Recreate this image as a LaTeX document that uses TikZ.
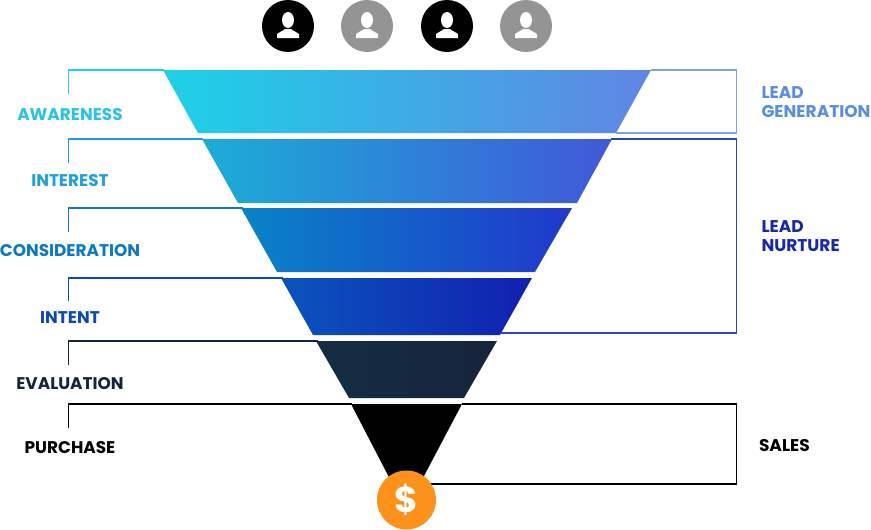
\documentclass[tikz,border=0pt]{standalone}
\usepackage{fontspec}
\setmainfont{Poppins}
\definecolor{awareC}{HTML}{27C4E6}
\definecolor{interC}{HTML}{1FA0DA}
\definecolor{considC}{HTML}{0C78C8}
\definecolor{intentC}{HTML}{0C48B8}
\definecolor{evalC}{HTML}{16243C}
\definecolor{genC}{HTML}{5B8CE4}
\definecolor{nurtC}{HTML}{1428B0}
\definecolor{coinC}{HTML}{FC9219}
\definecolor{bandOneL}{HTML}{1CD2E6}
\definecolor{bandOneR}{HTML}{6085E3}
\definecolor{bandTwoL}{HTML}{1AAED6}
\definecolor{bandTwoR}{HTML}{4058D8}
\definecolor{bandThreeL}{HTML}{0884C6}
\definecolor{bandThreeR}{HTML}{2038CC}
\definecolor{bandFourL}{HTML}{0A54BC}
\definecolor{bandFourR}{HTML}{1220B0}
\tikzset{
  stagelabel/.style={font=\bfseries\fontsize{16.9}{18}\selectfont,anchor=center},
  grouplabel/.style={font=\bfseries\fontsize{17}{19}\selectfont,anchor=west,align=left},
  person/.style={circle,minimum size=52pt,inner sep=0pt},
  bracket/.style={line width=1.5pt,line join=miter},
  band/.style={shading angle=6}
}
\begin{document}
\begin{tikzpicture}[x=1pt,y=-1pt]
    \useasboundingbox (0,0) rectangle (871,530);

    % Funnel
    \shade[band,left color=bandOneL,right color=bandOneR] (163,70)--(651,70)--(616,133)--(198,133)--cycle;
    \shade[band,left color=bandTwoL,right color=bandTwoR] (202,139)--(612,139)--(577,203)--(238,203)--cycle;
    \shade[band,left color=bandThreeL,right color=bandThreeR] (241,208)--(572,208)--(535,272)--(277,272)--cycle;
    \shade[band,left color=bandFourL,right color=bandFourR] (281,278)--(532,278)--(500,335)--(313,335)--cycle;
    \shade[band,left color=evalC!90!teal,right color=evalC] (316,341)--(497,341)--(464,398)--(349,398)--cycle;
    \fill[black] (351,404)--(462,404)--(406,510)--cycle;

    % Bracket Coordinates
    \coordinate (aw) at (68.5,94);
    \coordinate (in) at (68.5,163);
    \coordinate (co) at (68.5,232);
    \coordinate (it) at (68.5,301);
    \coordinate (ev) at (68.5,365);
    \coordinate (pu) at (68.5,428);

    % Left brackets
    \draw[bracket,awareC!80!cyan] (aw)|-(164,70);
    \draw[bracket,interC] (in)|-(203,139);
    \draw[bracket,considC] (co)|-(243,208);
    \draw[bracket,intentC] (it)|-(283,278);
    \draw[bracket,evalC] (ev)|-(318,341);
    \draw[bracket,black] (pu)|-(352,404);

    % Right brackets
    \draw[bracket,genC!80!white] (651,70)-|(736.5,133)--(616,133);
    \draw[bracket,nurtC!70!genC] (611,139)-|(736.5,333)--(500,333);
    \draw[bracket,black] (462,404)-|(736.5,484)--(425,484);

    % Coin
    \node[circle,fill=coinC,minimum size=59pt,inner sep=0pt,text=white,font=\bfseries\fontsize{36}{36}\selectfont] (coin) at (406.5,500) {\$};

    % People
    \node[person,fill=black] (p1) at (288,26) {};
    \node[person,fill=black!42] (p2) at (367,26) {};
    \node[person,fill=black] (p3) at (447,26) {};
    \node[person,fill=black!42] (p4) at (526,26) {};
    \foreach \p in {p1,p2,p3,p4} {
      \fill[white] ([yshift=6pt]\p.center) ellipse (6pt and 8pt);
      \fill[white] ([xshift=-11pt,yshift=-12pt]\p.center) -- ++(0,-3.5) .. controls +(1,-2) and +(-2,2) .. ++(8,-5.5) -- ++(6,0) .. controls +(2,2) and +(-1,-2) .. ++(8,5.5) -- ++(0,3.5) -- cycle;
    }

    % Text
    \node[stagelabel,text=awareC] (awl) at (70,115) {AWARENESS};
    \node[stagelabel,text=interC] (inl) at (70,181) {INTEREST};
    \node[stagelabel,text=considC] (col) at (70,251) {CONSIDERATION};
    \node[stagelabel,text=intentC] (itl) at (70,318) {INTENT};
    \node[stagelabel,text=evalC] (evl) at (70,384) {EVALUATION};
    \node[stagelabel,text=black] (pul) at (70,448) {PURCHASE};
    \node[grouplabel,text=genC] (gen) at (758,102.5) {LEAD\\GENERATION};
    \node[grouplabel,text=nurtC] (nur) at (758,236.5) {LEAD\\NURTURE};
    \node[grouplabel,text=black] (sal) at (755.5,446) {SALES};
\end{tikzpicture}
\end{document}
